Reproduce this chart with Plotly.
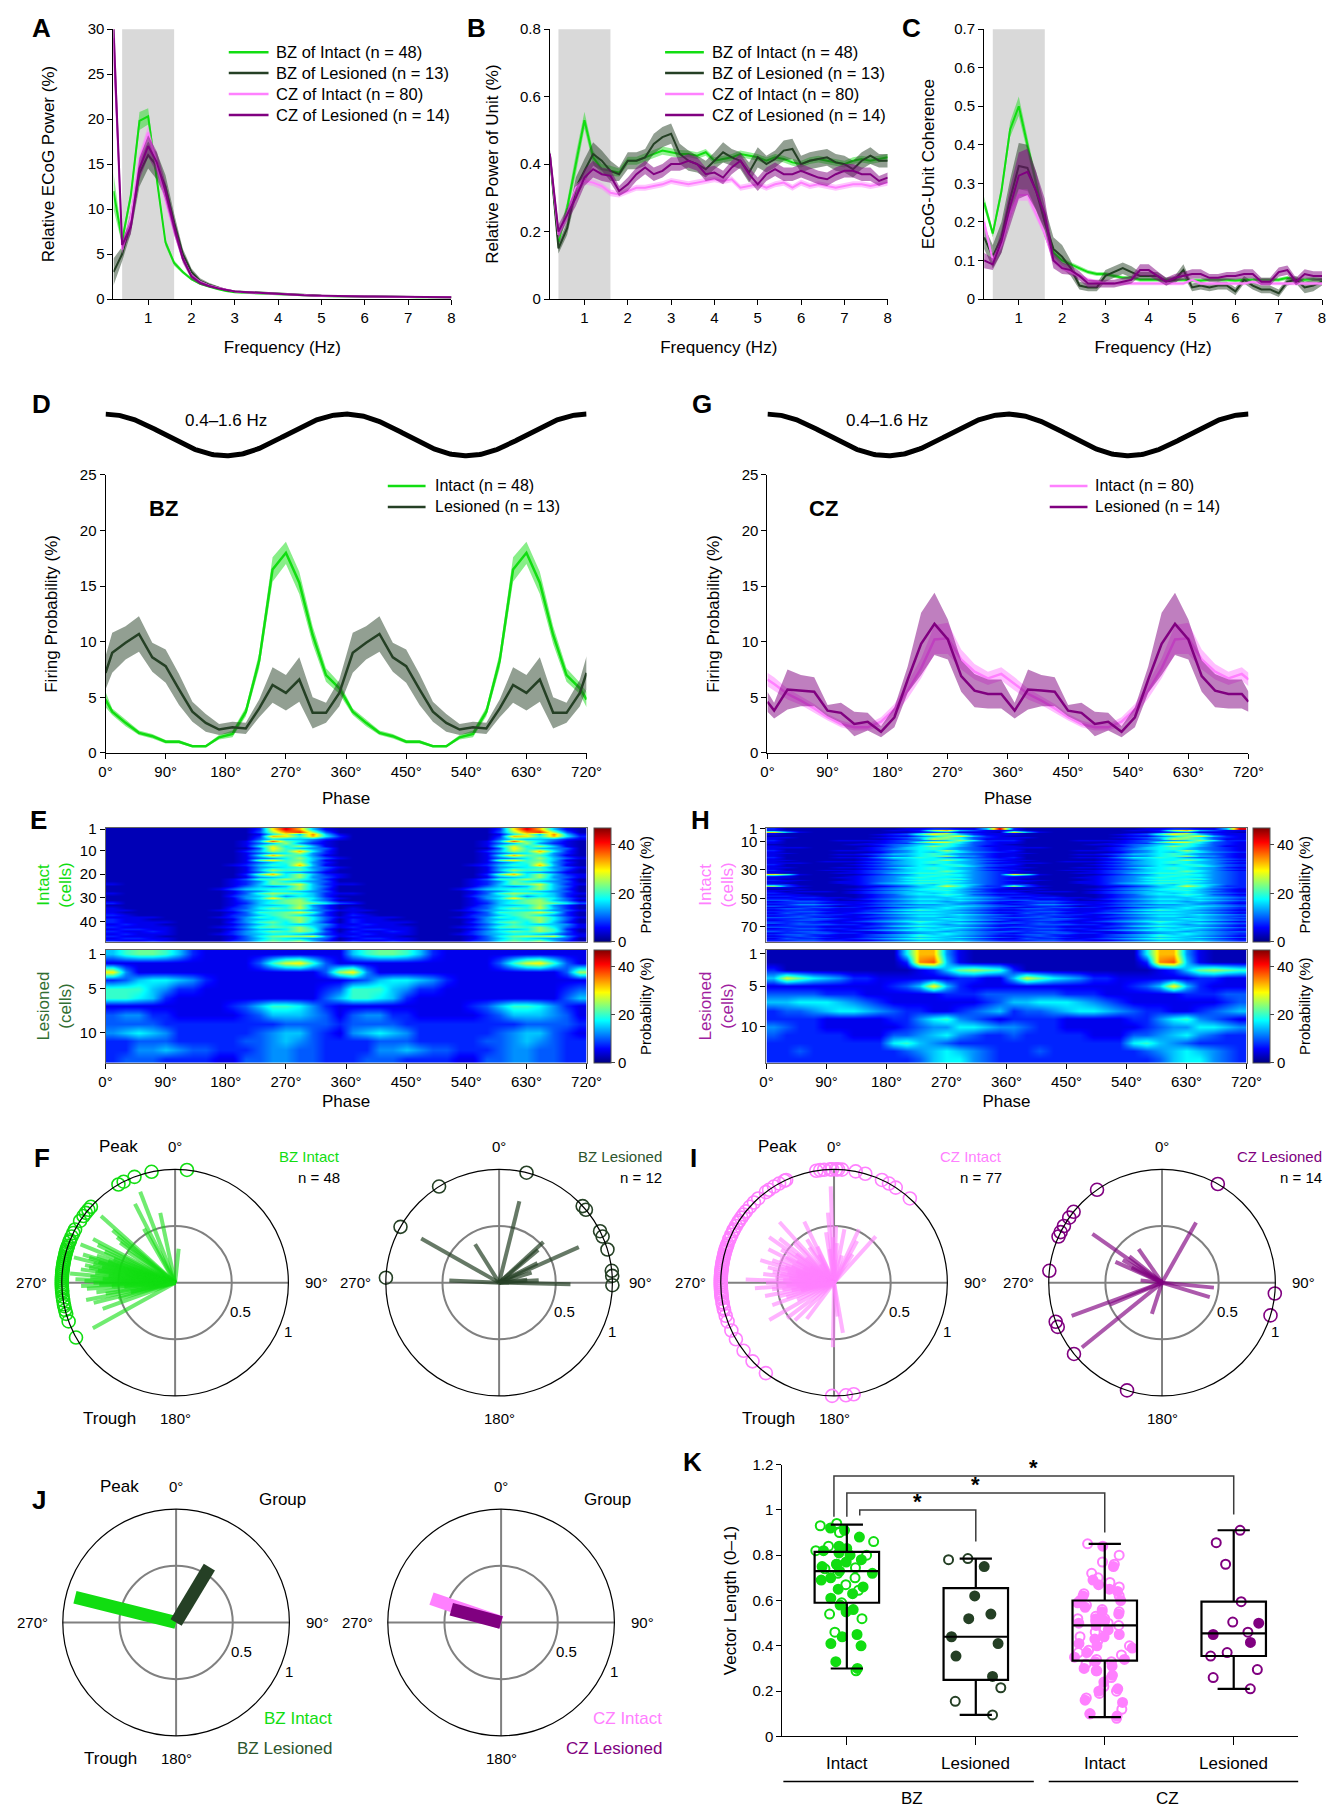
import plotly.graph_objects as go
import numpy as np

# Layout positions below are written in reference-page pixels (1342 x 1809).
# The rendered page places the figure 8 px / 16 px in from the corner and the captured
# picture comes out ~1 % smaller, so positions are converted with that mapping.
PAGE_W, PAGE_H = 1342, 1809
SX, SY = 0.989, 0.991
OFF_X, OFF_Y = 8, 16
W = int(round(PAGE_W / SX - OFF_X))
H = int(round(PAGE_H / SY - OFF_Y))
FONT = "Liberation Sans, Arial, sans-serif"

GREEN = "rgb(17,221,17)"
DKGREEN = "rgb(37,64,37)"
PINK = "rgb(255,128,255)"
PURPLE = "rgb(128,0,128)"


def rgba(rgb, a):
    return rgb.replace("rgb(", "rgba(").replace(")", f",{a})")

# ---------------- data: panels A-C ----------------
freq = [0.2, 0.4, 0.6, 0.8, 1.0, 1.2, 1.4, 1.6, 1.8, 2.0,
        2.2, 2.4, 2.6, 2.8, 3.0, 3.2, 3.4, 3.6, 3.8, 4.0,
        4.2, 4.4, 4.6, 4.8, 5.0, 5.2, 5.4, 5.6, 5.8, 6.0,
        6.2, 6.4, 6.6, 6.8, 7.0, 7.2, 7.4, 7.6, 7.8, 8.0]
series_names = ["BZ of Intact (n = 48)", "BZ of Lesioned (n = 13)",
                "CZ of Intact (n = 80)", "CZ of Lesioned (n = 14)"]

a_bz_int = [12.0, 6.5, 11.5, 19.8, 20.3, 13.5, 6.3, 4.0, 3.0, 2.2,
            1.7, 1.4, 1.1, 0.9, 0.75, 0.7, 0.65, 0.6, 0.55, 0.5,
            0.45, 0.4, 0.38, 0.35, 0.33, 0.3, 0.3, 0.28, 0.27, 0.26,
            0.25, 0.24, 0.23, 0.22, 0.22, 0.21, 0.2, 0.2, 0.2, 0.2]
a_bz_int_sem = [2.0, 0.5, 0.6, 1.0, 0.9, 0.7, 0.4, 0.3, 0.2, 0.15,
                0.1, 0.1, 0.08, 0.06, 0.05, 0.05, 0.05, 0.05, 0.04, 0.04,
                0.04, 0.04, 0.03, 0.03, 0.03, 0.03, 0.03, 0.03, 0.03, 0.03,
                0.02, 0.02, 0.02, 0.02, 0.02, 0.02, 0.02, 0.02, 0.02, 0.02]
a_bz_les = [3.0, 5.0, 8.5, 14.0, 16.0, 14.8, 12.5, 8.5, 5.0, 3.0,
            2.0, 1.6, 1.3, 1.0, 0.85, 0.8, 0.75, 0.65, 0.6, 0.55,
            0.5, 0.45, 0.42, 0.4, 0.37, 0.35, 0.33, 0.3, 0.29, 0.28,
            0.27, 0.26, 0.25, 0.24, 0.23, 0.22, 0.22, 0.21, 0.21, 0.2]
a_bz_les_sem = [1.5, 0.8, 1.2, 1.5, 1.5, 1.5, 1.3, 1.0, 0.6, 0.4,
                0.3, 0.2, 0.15, 0.12, 0.1, 0.1, 0.08, 0.08, 0.07, 0.07,
                0.06, 0.06, 0.05, 0.05, 0.05, 0.05, 0.04, 0.04, 0.04, 0.04,
                0.04, 0.03, 0.03, 0.03, 0.03, 0.03, 0.03, 0.03, 0.03, 0.03]
a_cz_int = [29.0, 5.5, 9.0, 15.5, 18.5, 15.0, 11.0, 7.5, 4.5, 2.6,
            1.9, 1.5, 1.25, 1.05, 0.85, 0.75, 0.7, 0.62, 0.57, 0.52,
            0.48, 0.44, 0.41, 0.38, 0.35, 0.33, 0.31, 0.29, 0.28, 0.27,
            0.26, 0.25, 0.24, 0.23, 0.22, 0.22, 0.21, 0.21, 0.2, 0.2]
a_cz_int_sem = [1.5, 0.5, 0.6, 0.8, 0.8, 0.7, 0.5, 0.4, 0.3, 0.2,
                0.15, 0.1, 0.1, 0.08, 0.06, 0.05, 0.05, 0.05, 0.04, 0.04,
                0.04, 0.04, 0.03, 0.03, 0.03, 0.03, 0.03, 0.03, 0.03, 0.03,
                0.02, 0.02, 0.02, 0.02, 0.02, 0.02, 0.02, 0.02, 0.02, 0.02]
a_cz_les = [30.0, 6.0, 8.0, 14.5, 17.0, 15.2, 12.0, 8.0, 4.5, 2.5,
            1.8, 1.45, 1.2, 1.0, 0.85, 0.78, 0.72, 0.65, 0.6, 0.55,
            0.5, 0.46, 0.42, 0.4, 0.37, 0.35, 0.33, 0.31, 0.3, 0.29,
            0.28, 0.27, 0.26, 0.25, 0.24, 0.23, 0.22, 0.22, 0.21, 0.21]
a_cz_les_sem = [4.0, 0.6, 0.8, 1.2, 1.2, 1.2, 1.0, 0.8, 0.5, 0.3,
                0.2, 0.15, 0.12, 0.1, 0.08, 0.07, 0.06, 0.06, 0.05, 0.05,
                0.05, 0.05, 0.04, 0.04, 0.04, 0.04, 0.04, 0.03, 0.03, 0.03,
                0.03, 0.03, 0.03, 0.03, 0.03, 0.03, 0.03, 0.03, 0.03, 0.03]

b_bz_int = [0.43, 0.17, 0.27, 0.40, 0.53, 0.42, 0.385, 0.38, 0.375, 0.41,
            0.41, 0.42, 0.43, 0.44, 0.435, 0.43, 0.43, 0.425, 0.435, 0.41,
            0.415, 0.42, 0.43, 0.425, 0.42, 0.41, 0.42, 0.415, 0.405, 0.40,
            0.41, 0.415, 0.41, 0.405, 0.40, 0.41, 0.415, 0.41, 0.415, 0.42]
b_bz_int_sem = [0.01, 0.015, 0.02, 0.03, 0.025, 0.02, 0.015, 0.015, 0.012, 0.012,
                0.012, 0.012, 0.012, 0.012, 0.012, 0.012, 0.01, 0.01, 0.01, 0.01,
                0.01, 0.01, 0.01, 0.01, 0.01, 0.01, 0.01, 0.01, 0.01, 0.01,
                0.01, 0.01, 0.01, 0.01, 0.01, 0.01, 0.01, 0.01, 0.01, 0.01]
b_bz_les = [0.43, 0.15, 0.21, 0.33, 0.38, 0.43, 0.41, 0.38, 0.37, 0.41,
            0.41, 0.42, 0.46, 0.48, 0.49, 0.43, 0.41, 0.40, 0.385, 0.41,
            0.435, 0.42, 0.41, 0.375, 0.42, 0.40, 0.415, 0.44, 0.445, 0.40,
            0.41, 0.415, 0.42, 0.405, 0.40, 0.385, 0.41, 0.425, 0.41, 0.41]
b_bz_les_sem = [0.02, 0.015, 0.02, 0.03, 0.035, 0.035, 0.03, 0.03, 0.02, 0.025,
                0.025, 0.025, 0.03, 0.03, 0.03, 0.03, 0.03, 0.025, 0.025, 0.025,
                0.03, 0.025, 0.025, 0.03, 0.03, 0.025, 0.025, 0.03, 0.03, 0.025,
                0.025, 0.025, 0.025, 0.025, 0.025, 0.025, 0.025, 0.025, 0.02, 0.02]
b_cz_int = [0.43, 0.19, 0.25, 0.33, 0.35, 0.345, 0.335, 0.315, 0.31, 0.32,
            0.33, 0.33, 0.335, 0.34, 0.35, 0.345, 0.34, 0.345, 0.35, 0.355,
            0.35, 0.355, 0.33, 0.335, 0.34, 0.33, 0.34, 0.345, 0.33, 0.345,
            0.335, 0.34, 0.335, 0.33, 0.335, 0.34, 0.34, 0.335, 0.34, 0.345]
b_cz_int_sem = [0.01, 0.012, 0.012, 0.01, 0.01, 0.01, 0.01, 0.01, 0.009, 0.009,
                0.009, 0.009, 0.009, 0.009, 0.009, 0.009, 0.009, 0.009, 0.009, 0.009,
                0.009, 0.009, 0.009, 0.009, 0.009, 0.009, 0.009, 0.009, 0.009, 0.009,
                0.009, 0.009, 0.009, 0.009, 0.009, 0.009, 0.009, 0.009, 0.009, 0.009]
b_cz_les = [0.43, 0.20, 0.25, 0.30, 0.36, 0.385, 0.37, 0.365, 0.32, 0.34,
            0.37, 0.39, 0.37, 0.38, 0.40, 0.40, 0.41, 0.40, 0.37, 0.375,
            0.36, 0.39, 0.41, 0.37, 0.34, 0.37, 0.385, 0.37, 0.37, 0.38,
            0.37, 0.36, 0.355, 0.37, 0.38, 0.38, 0.37, 0.37, 0.35, 0.36]
b_cz_les_sem = [0.015, 0.02, 0.02, 0.025, 0.025, 0.025, 0.02, 0.02, 0.015, 0.02,
                0.02, 0.02, 0.02, 0.02, 0.02, 0.02, 0.02, 0.02, 0.02, 0.02,
                0.02, 0.02, 0.02, 0.02, 0.02, 0.02, 0.02, 0.02, 0.02, 0.02,
                0.02, 0.02, 0.02, 0.02, 0.02, 0.02, 0.02, 0.02, 0.015, 0.015]

c_bz_int = [0.25, 0.17, 0.28, 0.44, 0.50, 0.40, 0.30, 0.20, 0.12, 0.10,
            0.09, 0.08, 0.07, 0.065, 0.065, 0.06, 0.055, 0.055, 0.05, 0.05,
            0.05, 0.05, 0.05, 0.05, 0.048, 0.048, 0.05, 0.05, 0.05, 0.048,
            0.05, 0.05, 0.05, 0.05, 0.05, 0.055, 0.05, 0.05, 0.052, 0.05]
c_bz_int_sem = [0.015, 0.01, 0.015, 0.02, 0.025, 0.02, 0.015, 0.01, 0.01, 0.008,
                0.006, 0.006, 0.005, 0.005, 0.005, 0.005, 0.005, 0.005, 0.005, 0.005,
                0.005, 0.005, 0.005, 0.005, 0.005, 0.005, 0.005, 0.005, 0.005, 0.005,
                0.005, 0.005, 0.005, 0.005, 0.005, 0.005, 0.005, 0.005, 0.005, 0.005]
c_bz_les = [0.16, 0.11, 0.16, 0.26, 0.345, 0.34, 0.28, 0.20, 0.13, 0.11,
            0.08, 0.035, 0.03, 0.03, 0.06, 0.07, 0.08, 0.07, 0.06, 0.06,
            0.06, 0.045, 0.05, 0.075, 0.03, 0.035, 0.03, 0.035, 0.035, 0.02,
            0.05, 0.035, 0.025, 0.025, 0.015, 0.045, 0.05, 0.03, 0.035, 0.045]
c_bz_les_sem = [0.03, 0.03, 0.04, 0.05, 0.06, 0.06, 0.05, 0.04, 0.03, 0.03,
                0.02, 0.01, 0.01, 0.01, 0.015, 0.015, 0.015, 0.015, 0.01, 0.01,
                0.01, 0.01, 0.01, 0.015, 0.01, 0.01, 0.01, 0.01, 0.01, 0.01,
                0.01, 0.01, 0.01, 0.01, 0.01, 0.01, 0.01, 0.015, 0.015, 0.01]
c_cz_int = [0.20, 0.10, 0.14, 0.22, 0.27, 0.27, 0.22, 0.17, 0.10, 0.08,
            0.07, 0.06, 0.05, 0.045, 0.04, 0.04, 0.04, 0.04, 0.04, 0.04,
            0.04, 0.04, 0.04, 0.04, 0.05, 0.04, 0.04, 0.04, 0.04, 0.04,
            0.04, 0.045, 0.04, 0.04, 0.04, 0.04, 0.04, 0.04, 0.04, 0.04]
c_cz_int_sem = [0.015, 0.01, 0.01, 0.015, 0.015, 0.015, 0.012, 0.01, 0.008, 0.006,
                0.005, 0.005, 0.005, 0.004, 0.004, 0.004, 0.004, 0.004, 0.004, 0.004,
                0.004, 0.004, 0.004, 0.004, 0.004, 0.004, 0.004, 0.004, 0.004, 0.004,
                0.004, 0.004, 0.004, 0.004, 0.004, 0.004, 0.004, 0.004, 0.004, 0.004]
c_cz_les = [0.10, 0.09, 0.15, 0.24, 0.32, 0.33, 0.28, 0.22, 0.10, 0.08,
            0.075, 0.06, 0.04, 0.04, 0.04, 0.04, 0.045, 0.05, 0.075, 0.075,
            0.06, 0.045, 0.055, 0.06, 0.065, 0.065, 0.055, 0.055, 0.06, 0.06,
            0.065, 0.065, 0.045, 0.045, 0.07, 0.075, 0.045, 0.065, 0.06, 0.06]
c_cz_les_sem = [0.02, 0.015, 0.03, 0.05, 0.06, 0.06, 0.05, 0.04, 0.02, 0.015,
                0.012, 0.012, 0.01, 0.01, 0.01, 0.01, 0.01, 0.01, 0.015, 0.015,
                0.012, 0.01, 0.01, 0.01, 0.012, 0.012, 0.01, 0.01, 0.01, 0.01,
                0.012, 0.012, 0.01, 0.01, 0.012, 0.012, 0.01, 0.012, 0.012, 0.012]

# ---------------- data: panels D, G (one cycle; plotted twice) ----------------
phase_bins = [10, 30, 50, 70, 90, 110, 130, 150, 170, 190,
              210, 230, 250, 270, 290, 310, 330, 350]
d_bz_int = [3.7, 2.7, 1.8, 1.5, 1.0, 1.0, 0.6, 0.6, 1.4, 1.7,
            3.7, 8.3, 16.5, 18.0, 15.3, 10.6, 7.0, 5.8]
d_bz_int_sem = [0.3, 0.3, 0.2, 0.2, 0.15, 0.15, 0.1, 0.1, 0.2, 0.3,
                0.4, 0.7, 1.1, 1.0, 1.0, 0.8, 0.6, 0.5]
d_bz_int_edge, d_bz_int_edge_sem = 4.8, 0.7
d_bz_les = [9.0, 9.9, 10.7, 8.6, 7.8, 5.7, 3.7, 2.7, 2.1, 2.3,
            2.2, 4.0, 6.1, 5.4, 6.6, 3.6, 3.6, 5.4]
d_bz_les_sem = [1.8, 1.5, 1.6, 1.3, 1.5, 1.4, 0.9, 0.8, 0.5, 0.5,
                0.5, 0.8, 1.6, 1.6, 2.0, 1.4, 0.9, 1.2]
d_bz_les_edge, d_bz_les_edge_sem = 7.2, 1.5

g_cz_int = [6.2, 5.3, 4.7, 4.0, 3.2, 2.6, 2.3, 2.3, 2.8, 3.9,
            5.6, 7.6, 10.2, 10.3, 8.4, 7.3, 6.7, 7.1]
g_cz_int_sem = [0.6, 0.5, 0.4, 0.4, 0.3, 0.3, 0.3, 0.3, 0.4, 0.5,
                0.7, 0.9, 1.3, 1.4, 0.9, 0.7, 0.6, 0.6]
g_cz_int_edge, g_cz_int_edge_sem = 6.6, 0.6
g_cz_les = [3.8, 5.7, 5.6, 5.5, 3.8, 3.6, 2.6, 2.8, 1.9, 3.2,
            6.6, 9.8, 11.6, 10.2, 6.9, 5.6, 5.3, 5.3]
g_cz_les_sem = [0.7, 1.8, 1.4, 1.3, 0.5, 0.9, 1.1, 0.8, 0.5, 0.9,
                1.2, 2.8, 2.8, 1.8, 1.4, 1.5, 1.3, 1.3]
g_cz_les_edge, g_cz_les_edge_sem = 4.6, 0.9

# ---------------- data: heatmaps (one cycle per row, 18 phase bins) ----------------
# each character = firing probability level: index in HM_CODE * 2.5 %
HM_CODE = "0123456789ABCDEFGHI"
e_bz_int_rows = [
    "111111 111113 CHD621", "111111 111114 AEGA41", "111111 111112 7B6E62",
    "111111 111113 DC8D73", "111111 111114 766532", "111111 111126 F97421",
    "111111 111124 6A5321", "111111 111127 B7A621", "111111 111114 C86541",
    "111111 111136 A8D731", "111111 111124 67A531", "111111 111127 D98521",
    "111111 111124 57A642", "111111 111129 C89621", "111111 111124 68A531",
    "111111 111236 87D621", "111111 111125 678542", "111111 111126 A89631",
    "111111 111124 765421", "111111 111139 D7A632", "111111 111125 67A542",
    "111111 111248 8A8631", "111111 111235 976541", "211111 111236 99B632",
    "111111 111246 56A641", "111111 112467 88A631", "111111 111245 776541",
    "211111 111248 A98632", "111111 111356 857631", "111111 111257 C89742",
    "111111 111246 79A641", "311111 111236 89A974", "111111 111246 67A531",
    "211111 111347 98B631", "221111 112356 777542", "211111 111248 89B831",
    "321111 111346 897531", "222211 112358 79A742", "322111 111256 78A741",
    "322221 111358 97A631", "232211 111246 876652", "322221 112358 98A742",
    "233221 111246 67A831", "322321 111357 98A841", "232221 112356 776532",
    "322211 111247 9AAB52", "233221 111246 876541", "322321 111347 98A631",
]
e_bz_les_rows = [
    "689986 322222 222222", "222222 222224 8BC842", "C52222 222222 22224A",
    "346776 532222 222222", "888653 322222 222234", "887632 222222 222246",
    "222222 222346 887532", "455332 222234 666542", "444433 333333 344443",
    "567653 333334 566432", "334443 333344 565433", "335565 443334 554433",
    "344433 332244 554433",
]
h_cz_int_rows = [
    "311111 111122 33226H", "211111 111223 AD6422", "C62111 111112 342221",
    "211111 111236 AB5322", "211111 112348 C96322", "111111 111224 69C632",
    "221111 112346 8A7432", "211111 111235 B98422", "311112 222344 56A733",
    "211111 112348 CB7432", "211111 122335 787432", "111111 223456 686432",
    "211111 112457 A86422", "222111 123467 875432", "211111 123567 865432",
    "311112 223457 7A6432", "211111 112457 687543", "221111 123567 875432",
    "211112 234667 865432", "211111 113457 8A6532", "311112 235778 754432",
    "211111 123567 787543", "221111 123467 7A7532", "211122 234567 876543",
    "222111 123567 876532", "311111 234567 687543", "211111 123457 778643",
    "221112 234677 876532", "211111 123467 876543", "311122 234567 787532",
    "221111 234567 797543", "211112 234678 876543", "C82111 123457 787543",
    "321111 234567 877543", "221112 234578 776543", "211111 234567 788543",
    "322111 234578 876543", "221112 234567 787543", "211112 235678 876543",
    "331111 234567 687643", "A42111 122346 7B8533", "221111 123456 787543",
    "112111 234567 876432", "221111 123457 786532", "212221 234566 776432",
    "321111 234567 676543", "222111 123467 787432", "332211 123456 676543",
    "223322 123456 667654", "332221 234567 766543", "443321 123456 667654",
    "234432 223456 656543", "333322 234567 765432", "235543 223445 565543",
    "433321 234566 667654", "223443 322345 676543", "344332 223456 676543",
    "233322 234678 765432", "334432 233456 666543", "243322 345677 765432",
    "333433 223456 667654", "234332 234567 766543", "444322 233456 656544",
    "333443 223456 676543", "234432 234566 667654", "333322 345678 765432",
    "434332 223457 667654", "234443 323456 656543", "333322 234678 765432",
    "443322 233456 667654", "234433 223457 676543", "333322 345677 765432",
    "434432 223456 656544", "233443 322345 676543", "344332 234567 676543",
    "234322 234568 765432", "333432 233456 667654", "243322 345678 765432",
    "334433 223456 666543", "233322 234567 767543",
]
h_cz_les_rows = [
    "111111 11117D D52111", "111111 11113E F62111", "311111 111112 369A98",
    "6B9765 332222 223322", "222222 222346 C63222", "444433 322222 233344",
    "667776 543222 222234", "344567 765433 223456", "333322 222335 785432",
    "543322 222234 557765", "433333 222445 675433", "333333 333786 543333",
    "334333 333345 676543", "333333 333334 677543",
]

# ---------------- data: polar plots F, I, J ----------------
f_bz_int_ang = [6, 348, 339, 333, 330, 312, 310, 308, 306, 303,
                298, 296, 294, 292, 291, 289, 288, 287, 286, 285,
                284, 283, 282, 281, 280, 279, 278, 277, 276, 275,
                274, 273, 272, 271, 270, 269, 268, 267, 266, 265,
                263, 261, 259, 258, 256, 254, 250, 241]
f_bz_int_len = [0.30, 0.63, 0.86, 0.78, 0.55, 0.88, 0.72, 0.65, 0.60, 0.50,
                0.82, 0.76, 0.68, 0.90, 0.58, 0.73, 0.62, 0.85, 0.79, 0.70,
                0.92, 0.74, 0.66, 0.81, 0.77, 0.69, 0.84, 0.71, 0.59, 0.93,
                0.75, 0.64, 0.88, 0.80, 0.72, 0.67, 0.83, 0.56, 0.78, 0.45,
                0.70, 0.62, 0.80, 0.40, 0.74, 0.52, 0.68, 0.83]
f_bz_les_ang = [14, 328, 299.5, 272.5, 47.5, 50, 63, 66, 73, 84, 86.6, 91.3]
f_bz_les_len = [0.74, 0.40, 0.79, 0.44, 0.53, 0.45, 0.38, 0.77, 0.30, 0.25, 0.35, 0.63]
i_cz_int_ang = [351, 353, 355, 358, 359, 1, 2, 4, 11, 16, 25, 29, 33, 42,
                335, 334, 331, 328, 325, 323, 318, 315, 312, 309,
                307, 305, 303, 302, 300, 298, 297, 295, 293, 292,
                290, 289, 288, 287, 286, 285, 284, 283, 282, 281,
                280, 279, 278, 277, 276, 275, 274, 273, 272, 271,
                270, 269, 268, 267, 266, 265, 264, 263, 262, 260,
                259, 257, 256, 253, 250, 245, 240, 233, 226, 217,
                181, 174, 170]
i_cz_int_len = [0.45, 0.30, 0.62, 0.85, 0.40, 0.20, 0.50, 0.35, 0.48, 0.25, 0.52, 0.42, 0.30, 0.55,
                0.35, 0.60, 0.28, 0.45, 0.38, 0.20, 0.72, 0.50, 0.33, 0.62,
                0.42, 0.70, 0.25, 0.55, 0.38, 0.48, 0.65, 0.30, 0.52, 0.40,
                0.58, 0.22, 0.45, 0.68, 0.35, 0.50, 0.28, 0.60, 0.42, 0.33,
                0.55, 0.48, 0.18, 0.63, 0.40, 0.52, 0.30, 0.45, 0.78, 0.37,
                0.60, 0.25, 0.50, 0.42, 0.70, 0.33, 0.55, 0.28, 0.46, 0.38,
                0.62, 0.30, 0.50, 0.44, 0.58, 0.36, 0.66, 0.52, 0.48, 0.40,
                0.57, 0.30, 0.45]
i_cz_les_ang = [29.5, 325, 308.7, 305, 296.5, 294, 276, 95.5, 106.8, 249.8, 247, 231, 198, 300]
i_cz_les_len = [0.61, 0.36, 0.37, 0.75, 0.30, 0.45, 0.19, 0.46, 0.44, 0.85, 0.50, 0.91, 0.29, 0.40]
j_bz_ang = [284, 31]
j_bz_len = [0.92, 0.57]
j_cz_ang = [289, 285]
j_cz_len = [0.65, 0.455]

# ---------------- data: panel K ----------------
k_labels = ["Intact", "Lesioned", "Intact", "Lesioned"]
k_groups = ["BZ", "CZ"]
k_q1 = [0.59, 0.25, 0.335, 0.355]
k_med = [0.73, 0.44, 0.49, 0.455]
k_q3 = [0.815, 0.655, 0.60, 0.595]
k_lo = [0.30, 0.095, 0.085, 0.21]
k_hi = [0.935, 0.785, 0.85, 0.91]
k_bz_int_open = [0.94, 0.93, 0.90, 0.86, 0.84, 0.82, 0.80, 0.76, 0.745, 0.74,
                 0.72, 0.70, 0.67, 0.645, 0.59, 0.54, 0.52, 0.46, 0.29]
k_bz_int_fill = [0.92, 0.91, 0.88, 0.84, 0.83, 0.82, 0.81, 0.80, 0.78, 0.77,
                 0.76, 0.75, 0.73, 0.72, 0.70, 0.69, 0.66, 0.65, 0.63, 0.61,
                 0.58, 0.56, 0.55, 0.45, 0.44, 0.41, 0.40, 0.33, 0.30]
k_bz_les_open = [0.785, 0.78, 0.215, 0.155, 0.095]
k_bz_les_fill = [0.75, 0.62, 0.54, 0.52, 0.44, 0.41, 0.355, 0.265]
k_cz_int_open = [0.85, 0.80, 0.77, 0.76, 0.72, 0.70, 0.68, 0.66, 0.63, 0.62,
                 0.60, 0.58, 0.56, 0.55, 0.53, 0.52, 0.52, 0.51, 0.50, 0.49,
                 0.48, 0.46, 0.44, 0.42, 0.40, 0.38, 0.37, 0.36, 0.34, 0.33,
                 0.32, 0.29, 0.26, 0.22, 0.20, 0.19, 0.17, 0.12, 0.10, 0.08]
k_cz_int_fill = [0.84, 0.75, 0.69, 0.67, 0.65, 0.64, 0.62, 0.60, 0.59, 0.57,
                 0.55, 0.54, 0.52, 0.51, 0.50, 0.49, 0.47, 0.45, 0.44, 0.43,
                 0.41, 0.40, 0.39, 0.37, 0.35, 0.34, 0.33, 0.31, 0.30, 0.29,
                 0.27, 0.24, 0.21, 0.20, 0.16, 0.15, 0.10, 0.09]
k_cz_les_open = [0.91, 0.855, 0.76, 0.595, 0.505, 0.46, 0.37, 0.355, 0.295, 0.26, 0.21]
k_cz_les_fill = [0.50, 0.45, 0.415]
k_sig_pairs = [(1, 2), (1, 3), (1, 4)]
k_sig_level = [1.0, 1.075, 1.15]
k_sig_drop = [(0.975, 0.86), (0.97, 0.90), (0.97, 0.98)]

# ---------------- helpers ----------------
for arr in [a_bz_int, a_bz_int_sem, a_bz_les, a_bz_les_sem, a_cz_int, a_cz_int_sem, a_cz_les, a_cz_les_sem,
            b_bz_int, b_bz_int_sem, b_bz_les, b_bz_les_sem, b_cz_int, b_cz_int_sem, b_cz_les, b_cz_les_sem,
            c_bz_int, c_bz_int_sem, c_bz_les, c_bz_les_sem, c_cz_int, c_cz_int_sem, c_cz_les, c_cz_les_sem]:
    assert len(arr) == len(freq)


def px(x):
    return (x / SX - OFF_X) / W


def py(y):
    return 1 - (y / SY - OFF_Y) / H


def dx(a, b):
    return [px(a), px(b)]


def dy(top, bottom):
    return [py(bottom), py(top)]


traces = []
annotations = []
shapes = []


def ann(x, y, text, size=15, color="black", xanchor="center", yanchor="middle", bold=False, angle=0, **kw):
    if bold:
        text = f"<b>{text}</b>"
    annotations.append(dict(x=px(x), y=py(y), xref="paper", yref="paper", text=text, showarrow=False,
                            xanchor=xanchor, yanchor=yanchor, textangle=angle,
                            font=dict(size=size, color=color, family=FONT), **kw))


def band(xs, m, s, color, alpha, xa, ya, width=2):
    up = [a + b for a, b in zip(m, s)]
    lo = [a - b for a, b in zip(m, s)]
    traces.append(go.Scatter(x=list(xs) + list(xs)[::-1], y=up + lo[::-1], fill="toself",
                             fillcolor=rgba(color, alpha), line=dict(width=0), mode="lines",
                             xaxis=xa, yaxis=ya, hoverinfo="skip", showlegend=False))
    traces.append(go.Scatter(x=list(xs), y=list(m), mode="lines", line=dict(color=color, width=width),
                             xaxis=xa, yaxis=ya, hoverinfo="skip", showlegend=False))


def legend_block(x_line0, x_line1, x_text, ys, labels, colors, size=16.5):
    for y, lab, col in zip(ys, labels, colors):
        shapes.append(dict(type="line", xref="paper", yref="paper", x0=px(x_line0), x1=px(x_line1),
                           y0=py(y), y1=py(y), line=dict(color=col, width=2.5)))
        ann(x_text, y, lab, size=size, xanchor="left")


TICKFONT = dict(size=15, family=FONT, color="black")
TITLEFONT = dict(size=17, family=FONT, color="black")


def ax(**kw):
    d = dict(showline=True, linecolor="black", linewidth=1, ticks="outside", ticklen=5, tickwidth=1,
             tickcolor="black", showgrid=False, zeroline=False, tickfont=TICKFONT)
    d.update(kw)
    return d


layout = dict(width=W, height=H, margin=dict(l=0, r=0, t=0, b=0), paper_bgcolor="white",
              plot_bgcolor="rgba(0,0,0,0)", showlegend=False, font=dict(family=FONT, color="black"),
              boxmode="overlay")

colors4 = [GREEN, DKGREEN, PINK, PURPLE]
alphas4 = [0.45, 0.5, 0.45, 0.5]

# ---------------- panels A, B, C ----------------
abc = [
    ("x", "y", (107, 447), [0, 30], [0, 5, 10, 15, 20, 25, 30], "Relative ECoG Power (%)", 28,
     [(a_bz_int, a_bz_int_sem), (a_bz_les, a_bz_les_sem), (a_cz_int, a_cz_int_sem), (a_cz_les, a_cz_les_sem)]),
    ("x2", "y2", (546, 886), [0, 0.8], [0, 0.2, 0.4, 0.6, 0.8], "Relative Power of Unit (%)", 16,
     [(b_bz_int, b_bz_int_sem), (b_bz_les, b_bz_les_sem), (b_cz_int, b_cz_int_sem), (b_cz_les, b_cz_les_sem)]),
    ("x3", "y3", (983, 1323), [0, 0.7], [0, 0.1, 0.2, 0.3, 0.4, 0.5, 0.6, 0.7], "ECoG-Unit Coherence", 15,
     [(c_bz_int, c_bz_int_sem), (c_bz_les, c_bz_les_sem), (c_cz_int, c_cz_int_sem), (c_cz_les, c_cz_les_sem)]),
]
for xa, ya, (x0, x1), yr, ytv, ytitle, ystand, sers in abc:
    xk = "xaxis" + xa[1:]
    yk = "yaxis" + ya[1:]
    layout[xk] = ax(domain=dx(x0, x1), range=[0.2, 8], tickvals=[1, 2, 3, 4, 5, 6, 7, 8], anchor=ya,
                    title=dict(text="Frequency (Hz)", font=TITLEFONT, standoff=16))
    layout[yk] = ax(domain=dy(28, 298), range=yr, tickvals=ytv,
                    ticktext=[("%g" % v) for v in ytv], anchor=xa,
                    title=dict(text=ytitle, font=TITLEFONT, standoff=ystand))
    shapes.append(dict(type="rect", xref=xa, yref=ya + " domain", x0=0.4, x1=1.6, y0=0, y1=1,
                       fillcolor="rgb(217,217,217)", line=dict(width=0), layer="below"))
    for (m, s), col, al in zip(sers, colors4, alphas4):
        band(freq, m, s, col, al, xa, ya)

legend_block(223, 263, 269, [51, 72, 93, 114], series_names, colors4)
legend_block(662, 701, 707, [51, 72, 93, 114], series_names, colors4)

# ---------------- panels D, G ----------------
cos_x = np.linspace(0, 720, 361)
cos_y = np.cos(np.deg2rad(cos_x))
phase_ticks = [0, 90, 180, 270, 360, 450, 540, 630, 720]
phase_text = [f"{v}°" for v in phase_ticks]
x_two = [0] + phase_bins + [b + 360 for b in phase_bins] + [720]


def two_cycles(vals, edge):
    return [edge] + list(vals) + list(vals) + [edge]


dg = [
    ("x4", "y4", "x5", "y5", (99, 583),
     [(d_bz_int, d_bz_int_sem, d_bz_int_edge, d_bz_int_edge_sem, GREEN, 0.5),
      (d_bz_les, d_bz_les_sem, d_bz_les_edge, d_bz_les_edge_sem, DKGREEN, 0.5)]),
    ("x6", "y6", "x7", "y7", (765, 1249),
     [(g_cz_int, g_cz_int_sem, g_cz_int_edge, g_cz_int_edge_sem, PINK, 0.5),
      (g_cz_les, g_cz_les_sem, g_cz_les_edge, g_cz_les_edge_sem, PURPLE, 0.5)]),
]
for cxa, cya, xa, ya, (x0, x1), sers in dg:
    layout["xaxis" + cxa[1:]] = dict(domain=dx(x0, x1), range=[0, 720], visible=False, anchor=cya)
    layout["yaxis" + cya[1:]] = dict(domain=dy(410, 458), range=[-1.15, 1.15], visible=False, anchor=cxa)
    traces.append(go.Scatter(x=cos_x, y=cos_y, mode="lines", line=dict(color="black", width=5),
                             xaxis=cxa, yaxis=cya, hoverinfo="skip", showlegend=False))
    layout["xaxis" + xa[1:]] = ax(domain=dx(x0, x1), range=[0, 720], tickvals=phase_ticks, ticktext=phase_text,
                                  anchor=ya, title=dict(text="Phase", font=TITLEFONT, standoff=13))
    layout["yaxis" + ya[1:]] = ax(domain=dy(474, 752), range=[0, 25], tickvals=[0, 5, 10, 15, 20, 25],
                                  anchor=xa, title=dict(text="Firing Probability (%)", font=TITLEFONT, standoff=17))
    for m, s, e, es, col, al in sers:
        band(x_two, two_cycles(m, e), two_cycles(s, es), col, al, xa, ya, width=2.5)

ann(220, 420, "0.4–1.6 Hz", size=17)
ann(885, 420, "0.4–1.6 Hz", size=17)
ann(157, 508, "BZ", size=22, bold=True)
ann(821, 508, "CZ", size=22, bold=True)
legend_block(383, 421, 428, [485, 506], ["Intact (n = 48)", "Lesioned (n = 13)"], [GREEN, DKGREEN], size=16)
legend_block(1049, 1087, 1093, [485, 506], ["Intact (n = 80)", "Lesioned (n = 14)"], [PINK, PURPLE], size=16)

# ---------------- panels E, H (heatmaps) ----------------
JET = [[0, "rgb(0,0,128)"], [0.125, "rgb(0,0,255)"], [0.375, "rgb(0,255,255)"],
       [0.625, "rgb(255,255,0)"], [0.875, "rgb(255,0,0)"], [1, "rgb(128,0,0)"]]
hm_x = phase_bins + [b + 360 for b in phase_bins]


def decode(rows):
    z = []
    for s in rows:
        s = s.replace(" ", "")
        assert len(s) == 18, s
        v = [HM_CODE.index(c) * 2.5 for c in s]
        z.append(v + v)
    return z


hms = [
    ("x8", "y8", (99, 583), (827, 941), e_bz_int_rows, [1, 10, 20, 30, 40], False, 590),
    ("x9", "y9", (99, 583), (949, 1062), e_bz_les_rows, [1, 5, 10], True, 590),
    ("x10", "y10", (764, 1247), (827, 941), h_cz_int_rows, [1, 10, 30, 50, 70], False, 1254),
    ("x11", "y11", (764, 1247), (949, 1062), h_cz_les_rows, [1, 5, 10], True, 1254),
]
for xa, ya, (x0, x1), (y0, y1), rows, ytv, showx, cbx in hms:
    n = len(rows)
    layout["xaxis" + xa[1:]] = ax(domain=dx(x0, x1), range=[0, 720], tickvals=phase_ticks, ticktext=phase_text,
                                  showticklabels=showx, ticks="outside" if showx else "", anchor=ya,
                                  linecolor="rgb(100,100,100)", mirror=True,
                                  title=dict(text="Phase" if showx else "", font=TITLEFONT, standoff=6))
    layout["yaxis" + ya[1:]] = ax(domain=dy(y0, y1), range=[n + 0.5, 0.5], tickvals=ytv, anchor=xa,
                                  linecolor="rgb(100,100,100)", mirror=True)
    traces.append(go.Heatmap(x=hm_x, y=list(range(1, n + 1)), z=decode(rows), colorscale=JET, zmin=0, zmax=47,
                             zsmooth="best", xaxis=xa, yaxis=ya, hoverinfo="skip",
                             colorbar=dict(x=px(cbx), xanchor="left", y=py((y0 + y1) / 2), yanchor="middle",
                                           len=py(y0) - py(y1), lenmode="fraction", thickness=17,
                                           thicknessmode="pixels", outlinewidth=1, outlinecolor="rgb(80,80,80)",
                                           tickvals=[0, 20, 40], ticks="outside", ticklen=4, tickfont=TICKFONT,
                                           xpad=0, ypad=0,
                                           title=dict(text="Probability (%)", side="right",
                                                      font=dict(size=15, family=FONT)))))

ann(48, 884, "Intact<br>(cells)", size=17, color=GREEN, angle=-90)
ann(48, 1005, "Lesioned<br>(cells)", size=17, color="rgb(50,110,50)", angle=-90)
ann(714, 884, "Intact<br>(cells)", size=17, color=PINK, angle=-90)
ann(714, 1005, "Lesioned<br>(cells)", size=17, color="rgb(160,30,160)", angle=-90)

# ---------------- polar panels F, I, J ----------------
R = 114


def polar_layout(cx, cy):
    return dict(domain=dict(x=[px(cx - R), px(cx + R)], y=[py(cy + R), py(cy - R)]),
                bgcolor="rgba(0,0,0,0)",
                angularaxis=dict(rotation=90, direction="clockwise", showline=True, linecolor="black",
                                 linewidth=1.2, showgrid=True, gridcolor="rgb(128,128,128)", gridwidth=1.5,
                                 tickmode="array", tickvals=[0, 90, 180, 270], showticklabels=False, ticks=""),
                radialaxis=dict(range=[0, 1], showline=False, showticklabels=False, ticks="",
                                tickmode="array", tickvals=[0.5], showgrid=True,
                                gridcolor="rgb(128,128,128)", gridwidth=1.5))


def polar_labels(cx, cy, peak):
    ann(cx, cy - 136, "0°", size=15)
    ann(cx, cy + 136, "180°", size=15)
    ann(cx - 144, cy, "270°", size=15)
    ann(cx + 142, cy, "90°", size=15)
    ann(cx + 66, cy + 29, "0.5", size=15)
    ann(cx + 114, cy + 49, "1", size=15)
    if peak:
        ann(cx - 57, cy - 136, "Peak", size=17)
        ann(cx - 66, cy + 136, "Trough", size=17)


polars = [
    ("polar", 169, 1282, f_bz_int_ang, f_bz_int_len, GREEN, 0.6, True),
    ("polar2", 495, 1282, f_bz_les_ang, f_bz_les_len, DKGREEN, 0.7, False),
    ("polar3", 832, 1282, i_cz_int_ang, i_cz_int_len, PINK, 0.6, True),
    ("polar4", 1162, 1282, i_cz_les_ang, i_cz_les_len, PURPLE, 0.65, False),
]
for sp, cx, cy, angs, lens, col, al, peak in polars:
    layout[sp] = polar_layout(cx, cy)
    polar_labels(cx, cy, peak)
    for a, L in zip(angs, lens):
        traces.append(go.Scatterpolar(r=[0, L], theta=[a, a], mode="lines", subplot=sp,
                                      line=dict(color=rgba(col, al), width=4), hoverinfo="skip",
                                      showlegend=False))
    traces.append(go.Scatterpolar(r=[1] * len(angs), theta=angs, mode="markers", subplot=sp, cliponaxis=False,
                                  marker=dict(symbol="circle-open", size=13, color=col, line=dict(width=1.6)),
                                  hoverinfo="skip", showlegend=False))

ann(337, 1156, "BZ Intact", size=15, color=GREEN, xanchor="right")
ann(337, 1177, "n = 48", size=15, xanchor="right")
ann(661, 1156, "BZ Lesioned", size=15, color="rgb(45,85,45)", xanchor="right")
ann(661, 1177, "n = 12", size=15, xanchor="right")
ann(1003, 1156, "CZ Intact", size=15, color=PINK, xanchor="right")
ann(1003, 1177, "n = 77", size=15, xanchor="right")
ann(1325, 1156, "CZ Lesioned", size=15, color=PURPLE, xanchor="right")
ann(1325, 1177, "n = 14", size=15, xanchor="right")

jpol = [("polar5", 170, 1622, j_bz_ang, j_bz_len, [GREEN, DKGREEN], True),
        ("polar6", 497, 1622, j_cz_ang, j_cz_len, [PINK, PURPLE], False)]
for sp, cx, cy, angs, lens, cols, peak in jpol:
    layout[sp] = polar_layout(cx, cy)
    polar_labels(cx, cy, peak)
    for a, L, c in zip(angs, lens, cols):
        traces.append(go.Scatterpolar(r=[0, L], theta=[a, a], mode="lines", subplot=sp,
                                      line=dict(color=c, width=13), hoverinfo="skip", showlegend=False))
    ann(cx + 107, 1499, "Group", size=17)

ann(329, 1718, "BZ Intact", size=17, color=GREEN, xanchor="right")
ann(329, 1748, "BZ Lesioned", size=17, color="rgb(45,85,45)", xanchor="right")
ann(661, 1718, "CZ Intact", size=17, color=PINK, xanchor="right")
ann(661, 1748, "CZ Lesioned", size=17, color=PURPLE, xanchor="right")

# ---------------- panel K ----------------
layout["xaxis12"] = ax(domain=dx(780, 1299), range=[0.5, 4.5], tickvals=[1, 2, 3, 4], showticklabels=False,
                       ticklen=8, anchor="y12")
layout["yaxis12"] = ax(domain=dy(1464, 1736), range=[0, 1.2], tickvals=[0, 0.2, 0.4, 0.6, 0.8, 1.0, 1.2],
                       ticktext=["0", "0.2", "0.4", "0.6", "0.8", "1", "1.2"], anchor="x12",
                       title=dict(text="Vector Length (0–1)", font=TITLEFONT, standoff=11))

pts = [(1, k_bz_int_open, k_bz_int_fill, GREEN), (2, k_bz_les_open, k_bz_les_fill, DKGREEN),
       (3, k_cz_int_open, k_cz_int_fill, PINK), (4, k_cz_les_open, k_cz_les_fill, PURPLE)]
for xi, op, fl, col in pts:
    for vals, sym in [(op, "circle-open"), (fl, "circle")]:
        traces.append(go.Box(x=[xi] * len(vals), y=vals, boxpoints="all", jitter=1, pointpos=0, width=0.5,
                             fillcolor="rgba(0,0,0,0)", line=dict(width=0, color="rgba(0,0,0,0)"),
                             marker=dict(symbol=sym, size=9, color=col, line=dict(width=2, color=col)),
                             xaxis="x12", yaxis="y12", hoverinfo="skip", showlegend=False))
for i in range(4):
    traces.append(go.Box(x=[i + 1], q1=[k_q1[i]], median=[k_med[i]], q3=[k_q3[i]], lowerfence=[k_lo[i]],
                         upperfence=[k_hi[i]], width=0.5, whiskerwidth=0.5, boxpoints=False,
                         fillcolor="rgba(0,0,0,0)", line=dict(color="black", width=2.2),
                         xaxis="x12", yaxis="y12", hoverinfo="skip", showlegend=False))

left_shift = [0.1, 0.0, -0.1]
for (g1, g2), lvl, (b1, b2), sh in zip(k_sig_pairs, k_sig_level, k_sig_drop, left_shift):
    xl = g1 + sh
    shapes.append(dict(type="path", xref="x12", yref="y12",
                       path=f"M {xl} {b1} L {xl} {lvl} L {g2} {lvl} L {g2} {b2}",
                       line=dict(color="rgb(60,60,60)", width=1.5)))
    annotations.append(dict(x=(xl + g2) / 2, y=lvl, xref="x12", yref="y12", text="<b>*</b>",
                            showarrow=False, yanchor="bottom", yshift=-6,
                            font=dict(size=22, family=FONT, color="black")))

for i, lab in enumerate(k_labels):
    annotations.append(dict(x=i + 1, y=py(1763), xref="x12", yref="paper", text=lab, showarrow=False,
                            xanchor="center", yanchor="middle",
                            font=dict(size=17, family=FONT, color="black")))
shapes.append(dict(type="line", xref="paper", yref="paper", x0=px(781), x1=px(1033), y0=py(1781), y1=py(1781),
                   line=dict(color="black", width=1.5)))
shapes.append(dict(type="line", xref="paper", yref="paper", x0=px(1048), x1=px(1299), y0=py(1781), y1=py(1781),
                   line=dict(color="black", width=1.5)))
ann(910, 1798, k_groups[0], size=17)
ann(1168, 1798, k_groups[1], size=17)

# ---------------- panel letters ----------------
for lab, x, y in [("A", 35, 27), ("B", 472, 27), ("C", 910, 27), ("D", 35, 403), ("G", 699, 403),
                  ("E", 32, 819), ("H", 698, 819), ("F", 35, 1157), ("I", 691, 1157),
                  ("J", 32, 1499), ("K", 690, 1461)]:
    ann(x, y, lab, size=26, bold=True)

layout["annotations"] = annotations
layout["shapes"] = shapes

fig = go.Figure(data=traces, layout=layout)
fig.write_html("out.html", config={"displayModeBar": False})
